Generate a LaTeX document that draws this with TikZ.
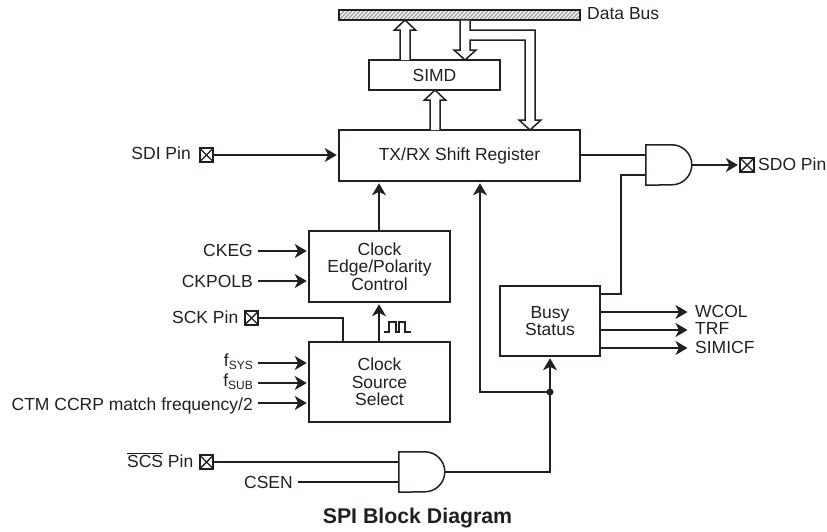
\documentclass[tikz,border=0pt]{standalone}
\usepackage{fontspec}
\setmainfont{Liberation Sans}
\usetikzlibrary{arrows.meta,calc}
\definecolor{ink}{HTML}{231F20}
\newcommand{\lowsub}[1]{\raisebox{-3pt}{\fontsize{12}{12}\selectfont #1}}
\newcommand{\hollowup}[2]{\draw[busline] ($(#2)+(-5,0)$) -- ($(#1)+(-5,10)$) -- ($(#1)+(-10.5,10)$) -- (#1) -- ($(#1)+(10.5,10)$) -- ($(#1)+(5,10)$) -- ($(#2)+(5,0)$);}
\tikzset{
  every node/.style={font=\fontsize{17.5}{17.7}\selectfont,text=ink},
  box/.style={draw=ink,line width=1.5pt,fill=white,align=center,inner sep=0pt},
  pinbox/.style={draw=ink,line width=1.7pt,fill=white,minimum size=13.5pt,inner sep=0pt,
    path picture={\draw[ink,line width=1.4pt] (path picture bounding box.south west) -- (path picture bounding box.north east)
      (path picture bounding box.north west) -- (path picture bounding box.south east);}},
  lbl/.style={anchor=east,inner sep=0pt},
  rlbl/.style={anchor=west,inner sep=0pt},
  gatearea/.style={minimum width=46pt,minimum height=40pt,inner sep=0pt},
  wire/.style={draw=ink,line width=1.5pt},
  arrow/.style={wire,-{Stealth[length=12pt,width=14pt,inset=3.5pt]},shorten >=1.5pt},
  busline/.style={draw=ink,line width=1.5pt,fill=white,line join=miter},
}
\begin{document}
\begin{tikzpicture}[x=1pt,y=-1pt]
\useasboundingbox (0,0) rectangle (827,531);
% boxes
\node[box,minimum width=241pt,minimum height=10pt,
  path picture={\foreach \i in {0,4,...,256}{\draw[gray!80,line width=1.2pt] ($(path picture bounding box.south west)+(\i-6,2)$) -- ++(14,-14);}}] (bus) at (459.5,15) {};
\node[box,minimum width=131pt,minimum height=30pt] (simd) at (434.5,75) {SIMD};
\node[box,minimum width=241pt,minimum height=51pt] (tx) at (459.5,155.5) {TX/RX Shift Register};
\node[box,minimum width=141pt,minimum height=71pt] (edge) at (379.5,266.5) {Clock\\Edge/Polarity\\Control};
\node[box,minimum width=141pt,minimum height=80pt] (src) at (379.5,382) {Clock\\Source\\Select};
\node[box,minimum width=100pt,minimum height=70pt] (busy) at (550,321) {Busy\\Status};
% gates
\node[gatearea] (gtop) at (669,165) {};
\node[gatearea] (gbot) at (422,472) {};
\foreach \g in {gtop,gbot}{
  \draw[wire,fill=white] (\g.north west) -- ++(26,0) arc[start angle=90,end angle=-90,radius=20pt] -- (\g.south west) -- cycle;
}
% pins
\node[pinbox] (sdi) at (206.5,155) {};
\node[pinbox] (sck) at (251.5,318) {};
\node[pinbox] (scs) at (206.5,462) {};
\node[pinbox] (sdo) at (747,165) {};
% labels
\node[rlbl] (busl) at (587,14) {Data Bus};
\node[lbl] (sdil) at (191,153) {SDI Pin};
\node[lbl] (sckl) at (238.5,317) {SCK Pin};
\node[lbl] (scsl) at (193.5,460) {$\overline{\mbox{SCS}}$ Pin};
\node[rlbl] (sdol) at (758,164) {SDO Pin};
\node[lbl] (ckegl) at (253,250) {CKEG};
\node[lbl] (ckpl) at (253,281) {CKPOLB};
\node[lbl] (sysl) at (253,362) {f\lowsub{SYS}};
\node[lbl] (subl) at (253,382) {f\lowsub{SUB}};
\node[lbl] (ctml) at (253,406) {CTM CCRP match frequency/2};
\node[lbl] (csenl) at (293,482) {CSEN};
\node[rlbl] (wcoll) at (695,311) {WCOL};
\node[rlbl] (trfl) at (695,328) {TRF};
\node[rlbl] (simil) at (695,347) {SIMICF};
\node[font=\fontsize{21.3}{22}\selectfont\bfseries] (title) at (417.5,518) {SPI Block Diagram};
% free ends
\coordinate (sdocol) at (621,0);
\coordinate (cksx) at (379,0);
\coordinate (sckx) at (343,0);
\coordinate (busyx) at (550,0);
\coordinate (fbx) at (480,0);
\coordinate (junc) at (550,392);
\coordinate (inx) at (258,0);
\coordinate (csx) at (298,0);
\coordinate (outx) at (689,0);
\coordinate (wave) at (384,332);
% hollow arrows
\hollowup{405,20}{405,60}
\hollowup{435,90}{435,130}
\draw[busline] (460,20.5) -- (460,50) -- (454,50) -- (465,60) -- (476,50) -- (470,50) -- (470,40) -- (525,40) -- (525,120) -- (519,120) -- (530,130) -- (541,120) -- (535,120) -- (535,30) -- (470,30) -- (470,20.5);
% wires
\draw[arrow] (sdi.east) -- (sdi.east -| tx.west);
\draw[wire] (tx.east |- 0,155) -- (gtop.west |- 0,155);
\draw[arrow] (gtop.east) -- (sdo.west);
\draw[wire] (busy.east |- 0,294) -- (sdocol |- 0,294) -- (sdocol |- 0,175) -- (gtop.west |- 0,175);
\draw[arrow] (edge.north -| cksx) -- (tx.south -| cksx);
\draw[arrow] (src.north -| cksx) -- (edge.south -| cksx);
\draw[wire] (sck.east) -- (sck.east -| sckx) -- (src.north -| sckx);
\draw[arrow] (inx |- 0,251) -- (edge.west |- 0,251);
\draw[arrow] (inx |- 0,281) -- (edge.west |- 0,281);
\draw[arrow] (inx |- 0,363) -- (src.west |- 0,363);
\draw[arrow] (inx |- 0,383) -- (src.west |- 0,383);
\draw[arrow] (inx |- 0,403) -- (src.west |- 0,403);
\draw[wire] (scs.east) -- (gbot.west |- scs.east);
\draw[wire] (csx |- 0,482) -- (gbot.west |- 0,482);
\draw[arrow] (gbot.east) -- (gbot.east -| busyx) -- (busy.south -| busyx);
\draw[arrow] (junc) -- (junc -| fbx) -- (tx.south -| fbx);
\fill[ink] (junc) circle[radius=3.5pt];
\draw[arrow] (busy.east |- 0,312) -- (outx |- 0,312);
\draw[arrow] (busy.east |- 0,330) -- (outx |- 0,330);
\draw[arrow] (busy.east |- 0,348) -- (outx |- 0,348);
% clock symbol
\draw[draw=ink,line width=1.2pt] (wave) -- ++(5,0) -- ++(0,-10) -- ++(7,0) -- ++(0,10) -- ++(3,0) -- ++(0,-10) -- ++(6,0) -- ++(0,10) -- ++(6,0);
\end{tikzpicture}
\end{document}
